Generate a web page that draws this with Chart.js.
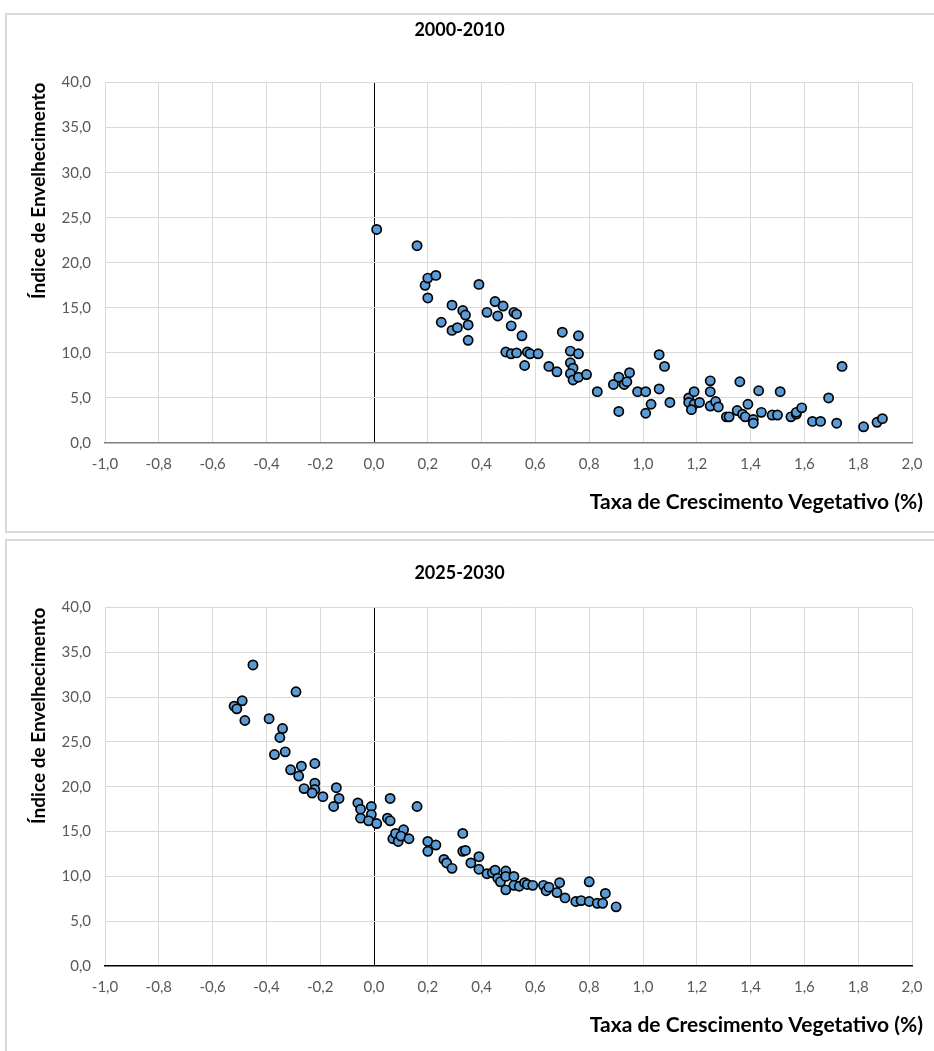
<!DOCTYPE html>
<html lang="pt">
<head>
  <meta charset="UTF-8">
  <title>Índice de Envelhecimento vs Taxa de Crescimento Vegetativo</title>
  <script src="https://cdn.jsdelivr.net/npm/chart.js"></script>
  <style>
    body {
      margin: 0;
      background: #fff;
      overflow: hidden;
      font-family: Lato, "Open Sans", sans-serif;
    }
    .box {
      position: absolute;
      left: 5px;
      width: 940px;
      height: 516px;
      border: 2px solid #d9d9d9;
      background: #fff;
    }
    #box1 { top: 13px; }
    #box2 { top: 539px; }
    canvas { display: block; }
  </style>
</head>
<body>
  <div class="box" id="box1"><canvas id="chart1" width="940" height="516"></canvas></div>
  <div class="box" id="box2"><canvas id="chart2" width="940" height="516"></canvas></div>

  <script>
    // 2000-2010
    const growth2000 = [0.01, 0.16, 0.19, 0.20, 0.23, 0.20, 0.25, 0.29, 0.33, 0.34,
      0.35, 0.29, 0.31, 0.35, 0.39, 0.42, 0.45, 0.48, 0.46, 0.52,
      0.53, 0.51, 0.55, 0.49, 0.51, 0.53, 0.57, 0.58, 0.61, 0.56,
      0.65, 0.68, 0.70, 0.76, 0.73, 0.76, 0.73, 0.74, 0.73, 0.74,
      0.76, 0.79, 0.83, 0.89, 0.91, 0.93, 0.94, 0.95, 0.91, 0.98,
      1.01, 1.03, 1.01, 1.06, 1.08, 1.06, 1.10, 1.17, 1.17, 1.19,
      1.19, 1.21, 1.18, 1.25, 1.25, 1.25, 1.27, 1.28, 1.31, 1.32,
      1.36, 1.35, 1.37, 1.39, 1.38, 1.41, 1.41, 1.43, 1.44, 1.48,
      1.50, 1.51, 1.55, 1.57, 1.57, 1.59, 1.63, 1.66, 1.69, 1.74,
      1.72, 1.82, 1.87, 1.89];
    const index2000 = [23.7, 21.9, 17.5, 18.3, 18.6, 16.1, 13.4, 15.3, 14.7, 14.2,
      13.1, 12.5, 12.8, 11.4, 17.6, 14.5, 15.7, 15.2, 14.1, 14.5,
      14.3, 13.0, 11.9, 10.1, 9.9, 10.0, 10.1, 9.9, 9.9, 8.6,
      8.5, 7.9, 12.3, 11.9, 10.2, 9.9, 8.9, 8.3, 7.7, 7.0,
      7.3, 7.6, 5.7, 6.5, 7.3, 6.5, 6.8, 7.8, 3.5, 5.7,
      5.7, 4.3, 3.3, 9.8, 8.5, 6.0, 4.5, 5.0, 4.5, 5.7,
      4.3, 4.5, 3.7, 6.9, 5.7, 4.1, 4.6, 4.0, 2.9, 2.9,
      6.8, 3.6, 3.2, 4.3, 2.9, 2.6, 2.2, 5.8, 3.4, 3.1,
      3.1, 5.7, 2.9, 3.2, 3.4, 3.9, 2.4, 2.4, 5.0, 8.5,
      2.2, 1.8, 2.3, 2.7];

    // 2025-2030
    const growth2025 = [-0.45, -0.29, -0.52, -0.51, -0.49, -0.48, -0.39, -0.34, -0.35, -0.37,
      -0.33, -0.31, -0.27, -0.28, -0.22, -0.26, -0.22, -0.22, -0.23, -0.19,
      -0.14, -0.13, -0.15, -0.06, -0.05, -0.05, -0.01, -0.01, -0.02, 0.01,
      0.06, 0.05, 0.06, 0.16, 0.07, 0.08, 0.11, 0.09, 0.10, 0.13,
      0.20, 0.20, 0.23, 0.33, 0.33, 0.34, 0.26, 0.27, 0.29, 0.36,
      0.39, 0.39, 0.42, 0.44, 0.45, 0.46, 0.47, 0.49, 0.49, 0.49,
      0.52, 0.52, 0.54, 0.56, 0.57, 0.59, 0.63, 0.64, 0.65, 0.69,
      0.68, 0.71, 0.75, 0.77, 0.80, 0.80, 0.83, 0.85, 0.86, 0.90];
    const index2025 = [33.6, 30.6, 29.0, 28.7, 29.6, 27.4, 27.6, 26.5, 25.5, 23.6,
      23.9, 21.9, 22.3, 21.2, 22.6, 19.8, 20.4, 19.7, 19.3, 18.9,
      19.9, 18.7, 17.8, 18.2, 17.5, 16.5, 17.8, 16.9, 16.2, 15.9,
      18.7, 16.5, 16.2, 17.8, 14.2, 14.8, 15.2, 13.9, 14.5, 14.2,
      13.9, 12.8, 13.5, 14.8, 12.8, 12.9, 11.9, 11.5, 10.9, 11.5,
      12.2, 10.8, 10.3, 10.4, 10.7, 9.8, 9.4, 8.5, 10.6, 10.0,
      10.0, 9.0, 8.9, 9.3, 9.1, 9.0, 9.0, 8.4, 8.8, 9.3,
      8.2, 7.6, 7.2, 7.3, 7.2, 9.4, 7.0, 7.0, 8.1, 6.6];

    const xMin = -1.0, xMax = 2.0, xStep = 0.2;
    const yMin = 0, yMax = 40, yStep = 5;
    const xTitle = 'Taxa de Crescimento Vegetativo (%)';
    const yTitle = 'Índice de Envelhecimento';

    Chart.defaults.font.family = 'Lato, "Open Sans", sans-serif';

    const fmt = v => (Math.abs(v) < 1e-9 ? 0 : v).toFixed(1).replace('.', ',');

    // x axis title sits right-aligned under the plot, a bit past its right edge
    const xTitlePlugin = {
      id: 'xTitle',
      afterDraw(chart, args, o) {
        const { ctx, chartArea } = chart;
        ctx.save();
        ctx.font = 'bold 21px Lato, "Open Sans", sans-serif';
        ctx.fillStyle = '#000';
        ctx.textAlign = 'right';
        ctx.textBaseline = 'middle';
        ctx.fillText(o.text, chartArea.right + o.dx, chartArea.bottom + o.dy);
        ctx.restore();
      }
    };

    function makeChart(id, title, xs, ys, cfg) {
      const pts = xs.map((x, i) => ({ x: x, y: ys[i] }));
      return new Chart(document.getElementById(id), {
        type: 'scatter',
        data: {
          datasets: [{
            data: pts,
            backgroundColor: '#5b9bd5',
            borderColor: '#000',
            borderWidth: 1.7,
            pointRadius: 4.6,
            pointHoverRadius: 4.6
          }]
        },
        options: {
          responsive: false,
          animation: false,
          layout: { padding: { left: 0, right: 35, top: 0, bottom: cfg.padBottom } },
          plugins: {
            legend: { display: false },
            tooltip: { enabled: false },
            title: {
              display: true,
              text: title,
              color: '#000',
              font: { size: 18, weight: 'bold' },
              padding: { top: cfg.titleTop, bottom: cfg.titleBottom }
            },
            xTitle: { text: xTitle, dx: 11, dy: 59 }
          },
          scales: {
            x: {
              type: 'linear',
              min: xMin,
              max: xMax,
              afterFit: s => { s.height = 60; },
              ticks: {
                stepSize: xStep,
                color: '#595959',
                font: { size: 15 },
                padding: 12,
                maxRotation: 0,
                callback: v => fmt(v)
              },
              grid: {
                drawTicks: false,
                lineWidth: 1,
                color: c => (c.tick && Math.abs(c.tick.value) < 1e-9) ? '#000' : '#d9d9d9'
              },
              border: { display: true, color: cfg.axisColor, width: 1.5 }
            },
            y: {
              min: yMin,
              max: yMax,
              afterFit: s => { s.width = 98; },
              ticks: {
                stepSize: yStep,
                color: '#595959',
                font: { size: 15 },
                padding: 14,
                callback: v => fmt(v)
              },
              grid: {
                drawTicks: false,
                lineWidth: 1,
                color: c => (c.tick && c.tick.value === 0) ? 'rgba(0,0,0,0)' : '#d9d9d9'
              },
              border: { display: false },
              title: {
                display: true,
                text: yTitle,
                align: 'end',
                color: '#000',
                font: { size: 19, weight: 'bold' },
                padding: { top: 20, bottom: 0 }
              }
            }
          }
        },
        plugins: [xTitlePlugin]
      });
    }

    makeChart('chart1', '2000-2010', growth2000, index2000,
      { titleTop: 4, titleBottom: 42, padBottom: 28, axisColor: '#808080' });
    makeChart('chart2', '2025-2030', growth2025, index2025,
      { titleTop: 21, titleBottom: 24, padBottom: 31, axisColor: '#000' });
  </script>
</body>
</html>
